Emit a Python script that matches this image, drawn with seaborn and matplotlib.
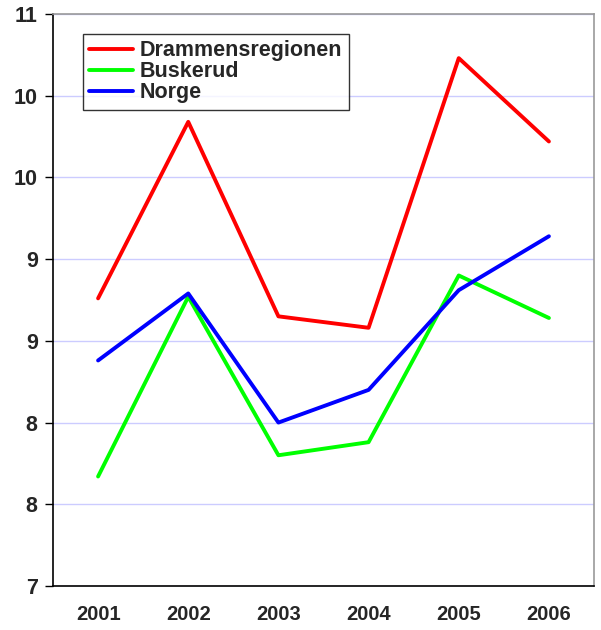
import matplotlib
matplotlib.use("Agg")
import matplotlib.pyplot as plt
import matplotlib.ticker as mticker
import seaborn as sns
import numpy as np
import pandas as pd

years = ["2001", "2002", "2003", "2004", "2005", "2006"]
drammen = [8.76, 9.84, 8.65, 8.58, 10.23, 9.72]
buskerud = [7.67, 8.77, 7.80, 7.88, 8.90, 8.64]
norge = [8.38, 8.79, 8.00, 8.20, 8.81, 9.14]
series_names = ["Drammensregionen", "Buskerud", "Norge"]
y_ticks = [7, 7.5, 8, 8.5, 9, 9.5, 10, 10.5]

df = pd.DataFrame({
    "pos": list(range(len(years))) * 3,
    "value": drammen + buskerud + norge,
    "serie": np.repeat(series_names, len(years)),
})

sns.set_style("white")
plt.rcParams['font.family'] = ['Liberation Sans', 'DejaVu Sans']

fig = plt.figure(figsize=(6.01, 6.30), dpi=100)
ax = fig.add_axes([53 / 601, 1 - 586 / 630, 541 / 601, 572 / 630])

sns.lineplot(data=df, x="pos", y="value", hue="serie",
             palette=["#ff0000", "#00ff00", "#0000ff"],
             linewidth=2.8, ax=ax, legend=True)

ax.set_xlim(-0.5, 5.5)
ax.set_ylim(7, 10.5)
ax.set_yticks(y_ticks)
# Excel-style rounding (half up) to zero decimals
ax.yaxis.set_major_formatter(mticker.FuncFormatter(lambda v, p: str(int(np.floor(v + 0.5)))))
ax.set_xticks(range(len(years)))
ax.set_xticklabels(years)
ax.set_xticks(np.arange(-0.5, 5.6, 1), minor=True)
ax.tick_params(axis="x", which="major", length=0, pad=14, labelsize=14.5)
ax.tick_params(axis="x", which="minor", length=6, width=1, color="black", direction="out")
ax.tick_params(axis="y", length=6, width=1, color="black", direction="out", labelsize=15.5, pad=5)
ax.tick_params(axis="y", left=True)
for lbl in ax.get_xticklabels() + ax.get_yticklabels():
    lbl.set_fontweight("bold")

ax.grid(axis="y", color="#ccccff", linewidth=1)
ax.set_axisbelow(True)
ax.set_xlabel("")
ax.set_ylabel("")

ax.spines["left"].set_color("black")
ax.spines["bottom"].set_color("black")
ax.spines["left"].set_linewidth(1.2)
ax.spines["bottom"].set_linewidth(1.2)
ax.spines["top"].set_color("#999999")
ax.spines["right"].set_color("#999999")
ax.spines["top"].set_linewidth(1.2)
ax.spines["right"].set_linewidth(1.2)

leg = ax.legend(loc="upper left", bbox_to_anchor=(30 / 541, 1 - 20 / 572),
                frameon=True, fancybox=False, edgecolor="black",
                prop={"weight": "bold", "size": 15.5},
                handlelength=2.0, labelspacing=0.0, borderpad=0.3,
                handletextpad=0.35, borderaxespad=0)
leg.get_frame().set_linewidth(1)
for h in leg.get_lines():
    h.set_linewidth(2.8)

fig.savefig("out.png", dpi=100)
